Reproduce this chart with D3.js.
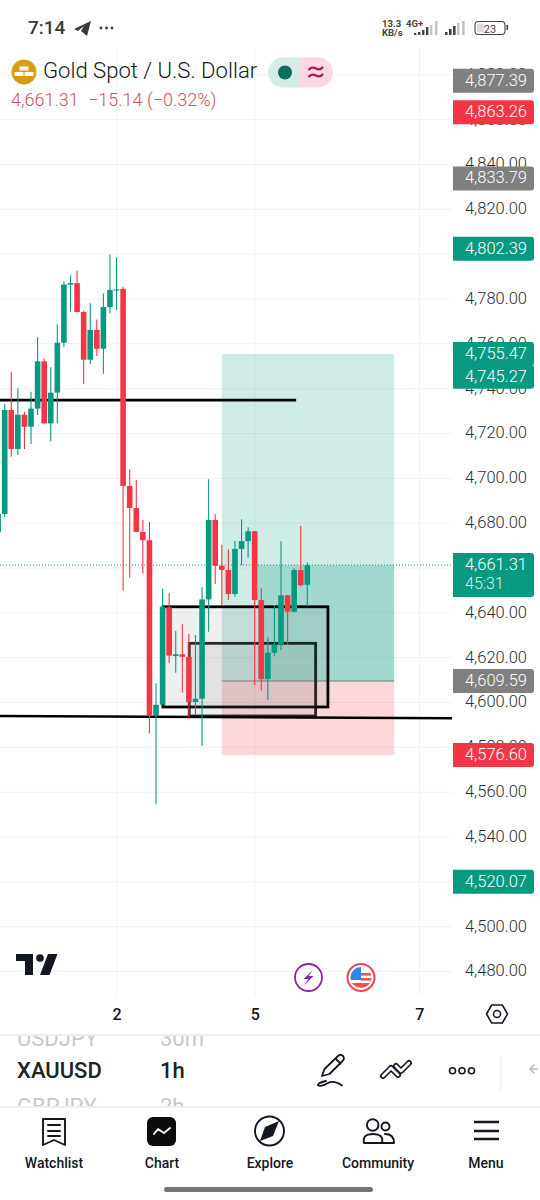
<!DOCTYPE html>
<html><head><meta charset="utf-8">
<script src="https://cdn.jsdelivr.net/npm/d3@7"></script>
<style>html,body{margin:0;padding:0;background:#fff}svg{display:block}text{font-family:Roboto,sans-serif}</style>
</head><body><svg id="c" width="540" height="1200"></svg>
<script>
// Candles, index -1 .. 46
const opens =[4676,4684.1,4730.5,4713.1,4728.4,4723,4731.1,4752.2,4724.5,4738.2,4760.5,4786.4,4787.1,4774.2,4752.9,4766.2,4757.8,4776.4,4783.9,4784.5,4696.6,4686.8,4676.1,4672.4,4594,4599,4642.5,4620.7,4621.5,4620.4,4600.2,4601.7,4646,4681.4,4661,4659.1,4648.4,4668.5,4672,4676.4,4645.7,4610.5,4622.2,4625.8,4647.8,4640.5,4659.1,4652.5];
const highs =[4686,4733,4747.6,4740.2,4729.7,4738.6,4762.9,4753.5,4749.5,4768.7,4787.9,4790.6,4792.6,4774.8,4778.1,4770.9,4782.4,4799.9,4798.6,4785.5,4704,4699.3,4681.4,4680.5,4608.6,4650.9,4648.7,4631.9,4635,4630.6,4630.1,4651.4,4699.6,4684,4670.4,4668.3,4672,4681.7,4678.2,4676.6,4651.2,4629.1,4643.5,4671.9,4648,4659.9,4678.7,4662.5];
const lows  =[4672,4682.9,4709.6,4710.4,4713.1,4715.3,4728.3,4724.3,4716.5,4724.5,4758.5,4774.3,4774,4742.1,4751,4754.6,4746.7,4773.6,4775.1,4649.9,4655.7,4676,4657.5,4586.3,4554.6,4599,4617.5,4613.3,4604.4,4593.2,4594.7,4580.6,4631.6,4652.9,4643,4645.7,4647.2,4661.3,4664.6,4607.8,4605.3,4601.1,4620.9,4623.4,4625.7,4640.3,4651.7,4643];
const closes=[4684.1,4730.5,4713.1,4728.4,4723,4731.1,4752.2,4724.5,4738.2,4760.5,4786.4,4787.1,4774.2,4752.9,4766.2,4757.8,4776.4,4784,4784.3,4696.6,4686.8,4676.1,4672.4,4594,4599,4642.7,4620.9,4621.5,4620.4,4600.2,4601.7,4646,4681.4,4661,4659.1,4648.4,4668.5,4672,4676.4,4645.7,4610.5,4622.2,4625.8,4647.8,4640.5,4659.1,4652.3,4661.31];
// Axes
const yTicks=d3.range(4480,4881,20);
const xTickIdx=[17,38,63];
const xTickLabels=["2","5","7"];
// Price labels
const priceTags=[4877.39,4863.26,4833.79,4802.39,4755.47,4745.27,4609.59,4576.60,4520.07];
const priceTagKinds=["gray","red","gray","green","green","green","gray","red","green"];
const lastPrice=4661.31;
// Drawings
const longPos={x0:33,x1:59.2,xFill:38.5,target:4755.47,entry:4609.59,stop:4576.60};
const boxes=[{x0:24.05,x1:49.13,top:4642.7,bot:4598,o:1},{x0:28.05,x1:47.26,top:4626.4,bot:4594,o:.82}];
const trendLines=[[-1,4734.9,44.3,4734.9],[-1,4594,68,4593]];

const W=452, green="#089981", red="#F23645", gray="#808080", gridC="#f1f2f5";
const y=d3.scaleLinear().domain([4480,4780]).range([971.5,299]);
const x=d3.scaleLinear().domain([0,38]).range([4.7,254.7]);
const svg=d3.select("#c");
const defs=svg.append("defs");
defs.append("clipPath").attr("id","pane").append("rect").attr("x",0).attr("y",47).attr("width",W).attr("height",948);
defs.append("clipPath").attr("id","tbar").append("rect").attr("x",0).attr("y",1036).attr("width",300).attr("height",70);
defs.append("clipPath").attr("id","flag").append("circle").attr("cx",361).attr("cy",977.5).attr("r",10.5);

// grid
const g=svg.append("g");
g.selectAll(".h").data(yTicks).join("line").attr("x1",0).attr("x2",W).attr("y1",d=>y(d)).attr("y2",d=>y(d)).attr("stroke",gridC);
g.selectAll(".v").data(xTickIdx).join("line").attr("x1",d=>x(d)+.3).attr("x2",d=>x(d)+.3).attr("y1",47).attr("y2",995).attr("stroke",gridC);

// y tick labels
svg.append("g").selectAll("text").data(yTicks).join("text").attr("x",527).attr("y",d=>y(d)-1).attr("dy","0.36em")
 .attr("text-anchor","end").attr("font-size",16.5).attr("font-weight",300).attr("fill","#2a2e39").text(d=>d3.format(",.2f")(d));

const pane=svg.append("g").attr("clip-path","url(#pane)");
pane.append("line").attr("x1",0).attr("x2",W).attr("y1",y(lastPrice)).attr("y2",y(lastPrice)).attr("stroke",green).attr("stroke-dasharray","1 2");

// long position
const lp=longPos;
pane.append("rect").attr("x",x(lp.x0)).attr("width",x(lp.x1)-x(lp.x0)).attr("y",y(lp.target)).attr("height",y(lp.entry)-y(lp.target)).attr("fill",green).attr("fill-opacity",.2);
pane.append("rect").attr("x",x(lp.xFill)).attr("width",x(lp.x1)-x(lp.xFill)).attr("y",y(lastPrice)).attr("height",y(lp.entry)-y(lastPrice)).attr("fill",green).attr("fill-opacity",.22);
pane.append("rect").attr("x",x(lp.x0)).attr("width",x(lp.x1)-x(lp.x0)).attr("y",y(lp.entry)).attr("height",y(lp.stop)-y(lp.entry)).attr("fill",red).attr("fill-opacity",.2);
pane.append("line").attr("x1",x(lp.x0)).attr("x2",x(lp.x1)).attr("y1",y(lp.entry)).attr("y2",y(lp.entry)).attr("stroke","#787b86").attr("stroke-width",1);

// boxes
pane.selectAll(".box").data(boxes).join("rect").attr("x",d=>x(d.x0)).attr("width",d=>x(d.x1)-x(d.x0)).attr("y",d=>y(d.top)).attr("height",d=>y(d.bot)-y(d.top))
 .attr("fill","#808080").attr("fill-opacity",.13).attr("stroke","#000").attr("stroke-opacity",d=>d.o).attr("stroke-width",2.8);
// trend lines
pane.selectAll(".tl").data(trendLines).join("line").attr("x1",d=>x(d[0])).attr("y1",d=>y(d[1])).attr("x2",d=>x(d[2])).attr("y2",d=>y(d[3])).attr("stroke","#000").attr("stroke-width",2.6);

// candles drawn above the drawings
const data=opens.map((o,i)=>({i:i-1,o,h:highs[i],l:lows[i],c:closes[i]}));
pane.selectAll(".w").data(data).join("line").attr("x1",d=>x(d.i)).attr("x2",d=>x(d.i)).attr("y1",d=>y(d.h)).attr("y2",d=>y(d.l))
 .attr("stroke",d=>d.c>=d.o?green:red).attr("stroke-width",1.1);
pane.selectAll(".b").data(data).join("rect").attr("x",d=>x(d.i)-2.8).attr("width",5.6)
 .attr("y",d=>y(Math.max(d.o,d.c))).attr("height",d=>Math.max(1.2,Math.abs(y(d.o)-y(d.c))))
 .attr("fill",d=>d.c>=d.o?green:red);

// price tags
const kc={gray:gray,red:red,green:green};
function tagPath(x0,x1,y0,y1){const r=3;return `M${x0} ${y0}H${x1-r}Q${x1} ${y0} ${x1} ${y0+r}V${y1-r}Q${x1} ${y1} ${x1-r} ${y1}H${x0}Z`;}
const tags=svg.append("g");
priceTags.forEach((v,i)=>{const c=y(v);
 tags.append("path").attr("d",tagPath(453,534,c-12,c+12)).attr("fill",kc[priceTagKinds[i]]);
 tags.append("text").attr("x",527).attr("y",c-1).attr("dy","0.36em").attr("text-anchor","end").attr("font-size",16.5).attr("font-weight",300).attr("fill","#fff").text(d3.format(",.2f")(v));
});
{const c=y(lastPrice);
 tags.append("path").attr("d",tagPath(453,534,c-12,c+32)).attr("fill",green);
 tags.append("text").attr("x",527).attr("y",c-1).attr("dy","0.36em").attr("text-anchor","end").attr("font-size",16.5).attr("font-weight",300).attr("fill","#fff").text(d3.format(",.2f")(lastPrice));
 tags.append("text").attr("x",465).attr("y",c+18).attr("dy","0.36em").attr("font-size",16).attr("font-weight",300).attr("fill","#fff").attr("fill-opacity",.85).text("45:31");
}

// x labels
svg.append("g").selectAll("text").data(xTickIdx).join("text").attr("x",d=>x(d)+.5).attr("y",1014).attr("dy","0.36em").attr("text-anchor","middle").attr("font-size",16).attr("font-weight",500).attr("fill","#131722").text((d,i)=>xTickLabels[i]);

function T(s,px,py,size,fill,o={}){return svg.append("text").attr("x",px).attr("y",py).attr("font-size",size).attr("fill",fill).attr("font-weight",o.w||400).attr("text-anchor",o.a||"start").text(s);}
function P(d,o={}){return svg.append("path").attr("d",d).attr("fill",o.f||"none").attr("stroke",o.s||"none").attr("stroke-width",o.sw||1.8).attr("stroke-linecap","round").attr("stroke-linejoin","round");}

// status bar
T("7:14",28,34,19,"#3a3a3a",{w:500});
P("M74 29L91 21L87 36L81 31L84 26L78 31Z",{f:"#3a3a3a"});
[101,106.5,112].forEach(c=>svg.append("circle").attr("cx",c).attr("cy",28).attr("r",1.4).attr("fill","#3a3a3a"));
T("13.3",382,27,9.5,"#444",{w:700});T("KB/s",382,36,9.5,"#444",{w:700});T("4G+",406,27,9.5,"#444",{w:700});
[[414,2],[418,3],[422,5],[426,8],[430,10],[435,14]].forEach((b,i)=>svg.append("rect").attr("x",b[0]).attr("y",35-b[1]).attr("width",2.4).attr("height",b[1]).attr("fill",i<4?"#444":"#c4c4c4"));
[[445,3],[449,6],[453,9],[457,12],[462,14]].forEach((b,i)=>svg.append("rect").attr("x",b[0]).attr("y",35-b[1]).attr("width",2.6).attr("height",b[1]).attr("fill",i<3?"#444":"#c4c4c4"));
svg.append("rect").attr("x",475).attr("y",21.5).attr("width",30).attr("height",13).attr("rx",3.5).attr("fill","none").attr("stroke","#444").attr("stroke-width",1.1);
svg.append("rect").attr("x",477).attr("y",23.5).attr("width",7).attr("height",9).attr("rx",1).attr("fill","#ddd");
T("23",490,32.5,11,"#444",{a:"middle"});
svg.append("rect").attr("x",506.5).attr("y",25).attr("width",1.6).attr("height",5).attr("fill","#444");

// header
svg.append("circle").attr("cx",24).attr("cy",72).attr("r",12.5).attr("fill","#DA9C0F");
[[19.5,66.5,9],[14.5,72,9],[24.5,72,9]].forEach(b=>svg.append("rect").attr("x",b[0]).attr("y",b[1]).attr("width",b[2]).attr("height",4).attr("fill","#fff"));
T("Gold Spot / U.S. Dollar",43,78,22.1,"#131722",{w:300});
T("4,661.31",11,106,18,"#c8545f",{w:300});T("−15.14 (−0.32%)",88,106,18,"#c8545f",{w:300});
P("M283 57.5H300V87.5H283A15 15 0 0 1 283 57.5Z",{f:"#d6ece8"});
P("M300 57.5H318A15 15 0 0 1 318 87.5H300Z",{f:"#fbd8e3"});
svg.append("circle").attr("cx",285).attr("cy",72.5).attr("r",7).attr("fill","#0b6e5b");
P("M309 69.5Q312 66.5 316 68.5T322.5 67.5M309 76.5Q312 73.5 316 75.5T322.5 74.5",{s:"#a3195b",sw:2.2});

// TV logo, events
P("M16 954H33V975H25V961H16ZM48 954H57.500L49.500 975H40Z",{f:"#131722"});
svg.append("circle").attr("cx",40).attr("cy",958).attr("r",3.8).attr("fill","#131722");
svg.append("circle").attr("cx",308.5).attr("cy",977.5).attr("r",13.5).attr("fill","#fff").attr("stroke","#8e24aa").attr("stroke-width",1.8);
P("M313 970L303.500 979H308.500L304 985.500L313.500 976H308.500Z",{f:"#8e24aa"});
svg.append("circle").attr("cx",361).attr("cy",977.5).attr("r",13.5).attr("fill","#fff").attr("stroke","#ef4350").attr("stroke-width",2);
const fl=svg.append("g").attr("clip-path","url(#flag)");
[[361,973,12,2.6],[361,978,12,2.6],[349,983,24,5]].forEach(b=>fl.append("rect").attr("x",b[0]).attr("y",b[1]).attr("width",b[2]).attr("height",b[3]).attr("fill","#ef5350"));
fl.append("rect").attr("x",350).attr("y",966).attr("width",11).attr("height",14).attr("fill","#2e86e6");

// axis settings hexagon
P("M486.5 1014L491.7 1005H502.3L507.5 1014L502.3 1023H491.7Z",{s:"#131722",sw:1.5});
svg.append("circle").attr("cx",497).attr("cy",1014).attr("r",3.5).attr("fill","none").attr("stroke","#131722").attr("stroke-width",1.5);

// toolbar
svg.append("line").attr("x1",0).attr("x2",540).attr("y1",1035).attr("y2",1035).attr("stroke","#e8e8e8").attr("stroke-width",1.5);
svg.append("line").attr("x1",0).attr("x2",540).attr("y1",1107).attr("y2",1107).attr("stroke","#eaeaea").attr("stroke-width",1.5);
const tb=svg.append("g").attr("clip-path","url(#tbar)");
[["USDJPY",17,1046],["GBPJPY",17,1114],["30m",160,1046],["2h",160,1114]].forEach(r=>tb.append("text").attr("x",r[1]).attr("y",r[2]).attr("font-size",22).attr("fill","#c8c8c8").attr("font-weight",400).text(r[0]));
T("XAUUSD",17,1078,22,"#222",{w:500});T("1h",160,1078,22,"#222",{w:500});
P("M322 1076L324.500 1069L338 1056Q340.500 1053.500 343 1056Q345 1059 342.500 1061L329.500 1074Z",{s:"#131722",sw:1.8});
P("M335.500 1058.500L340.500 1063.500",{s:"#131722",sw:1.8});
P("M326 1081Q317 1083 318 1085.500Q322 1087 328 1083Q334 1080 342 1085.500",{s:"#131722",sw:1.8});
P("M383 1076L391 1068L398 1075M396 1066L401 1071L409 1063",{s:"#131722",sw:6});
P("M383 1076L391 1068L398 1075M396 1066L401 1071L409 1063",{s:"#fff",sw:2.6});
[452.5,462,471.5].forEach(c=>svg.append("circle").attr("cx",c).attr("cy",1070.7).attr("r",3).attr("fill","none").attr("stroke","#131722").attr("stroke-width",1.6));
svg.append("line").attr("x1",501).attr("x2",501).attr("y1",1056).attr("y2",1092).attr("stroke","#ececec");
P("M537 1069H531M534 1065L530 1069L534 1073",{s:"#bbb",sw:1.6});

// nav
const navLabels=["Watchlist","Chart","Explore","Community","Menu"], navX=[54,162,270,378,486];
navLabels.forEach((l,i)=>T(l,navX[i],1168,14,"#131722",{w:500,a:"middle"}));
P("M43 1119H65V1145L54 1140L43 1145ZM48 1125H60M48 1131H60M48 1136H60",{s:"#131722",sw:1.9});
svg.append("rect").attr("x",147).attr("y",1117).attr("width",29).attr("height",29).attr("rx",6).attr("fill","#0c0c0c");
P("M154 1134L158 1129L164 1133L170 1128",{s:"#fff",sw:1.8});
svg.append("circle").attr("cx",269.5).attr("cy",1131).attr("r",14.5).attr("fill","none").attr("stroke","#131722").attr("stroke-width",1.9);
P("M279 1121L273 1136L260 1141L265 1127Z",{f:"#131722"});
svg.append("circle").attr("cx",372.7).attr("cy",1125).attr("r",5.8).attr("fill","none").attr("stroke","#131722").attr("stroke-width",1.9);
svg.append("circle").attr("cx",385.5).attr("cy",1126.5).attr("r",4).attr("fill","none").attr("stroke","#131722").attr("stroke-width",1.9);
P("M364 1143Q362 1134 373 1134Q384 1134 382 1143ZM385 1134Q394 1134 394 1143H382",{s:"#131722",sw:1.9});
[1122,1131,1139].forEach(yy=>svg.append("line").attr("x1",474).attr("x2",499).attr("y1",yy).attr("y2",yy).attr("stroke","#131722").attr("stroke-width",2.5));
svg.append("rect").attr("x",164).attr("y",1187).attr("width",209).attr("height",5).attr("rx",2.5).attr("fill","#757575");
</script></body></html>
